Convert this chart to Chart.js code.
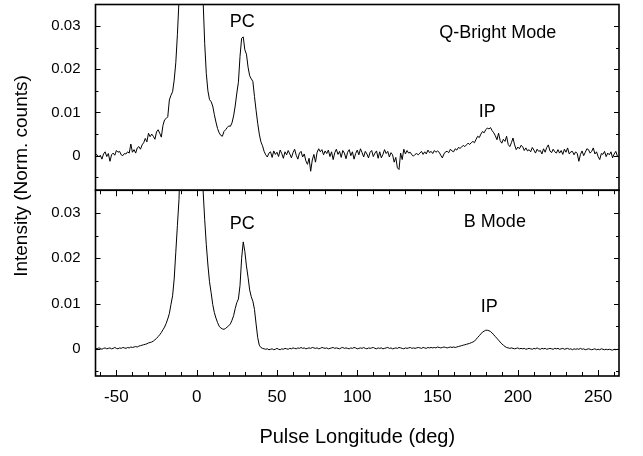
<!DOCTYPE html>
<html>
<head>
<meta charset="utf-8">
<script src="https://cdn.jsdelivr.net/npm/chart.js@4.4.0/dist/chart.umd.min.js"></script>
<style>
  html, body { margin: 0; padding: 0; background: #fff; }
  canvas { display: block; }
</style>
</head>
<body>
<canvas id="profile-chart" width="643" height="456"></canvas>
<script>
// pulse longitude in degrees, one sample per degree
const longitude = [
  -63, -62, -61, -60, -59, -58, -57, -56, -55, -54,
  -53, -52, -51, -50, -49, -48, -47, -46, -45, -44,
  -43, -42, -41, -40, -39, -38, -37, -36, -35, -34,
  -33, -32, -31, -30, -29, -28, -27, -26, -25, -24,
  -23, -22, -21, -20, -19, -18, -17, -16, -15, -14,
  -13, -12, -11, -10, -9, -8, -7, -6, -5, -4,
  -3, -2, -1, 0, 1, 2, 3, 4, 5, 6,
  7, 8, 9, 10, 11, 12, 13, 14, 15, 16,
  17, 18, 19, 20, 21, 22, 23, 24, 25, 26,
  27, 28, 29, 30, 31, 32, 33, 34, 35, 36,
  37, 38, 39, 40, 41, 42, 43, 44, 45, 46,
  47, 48, 49, 50, 51, 52, 53, 54, 55, 56,
  57, 58, 59, 60, 61, 62, 63, 64, 65, 66,
  67, 68, 69, 70, 71, 72, 73, 74, 75, 76,
  77, 78, 79, 80, 81, 82, 83, 84, 85, 86,
  87, 88, 89, 90, 91, 92, 93, 94, 95, 96,
  97, 98, 99, 100, 101, 102, 103, 104, 105, 106,
  107, 108, 109, 110, 111, 112, 113, 114, 115, 116,
  117, 118, 119, 120, 121, 122, 123, 124, 125, 126,
  127, 128, 129, 130, 131, 132, 133, 134, 135, 136,
  137, 138, 139, 140, 141, 142, 143, 144, 145, 146,
  147, 148, 149, 150, 151, 152, 153, 154, 155, 156,
  157, 158, 159, 160, 161, 162, 163, 164, 165, 166,
  167, 168, 169, 170, 171, 172, 173, 174, 175, 176,
  177, 178, 179, 180, 181, 182, 183, 184, 185, 186,
  187, 188, 189, 190, 191, 192, 193, 194, 195, 196,
  197, 198, 199, 200, 201, 202, 203, 204, 205, 206,
  207, 208, 209, 210, 211, 212, 213, 214, 215, 216,
  217, 218, 219, 220, 221, 222, 223, 224, 225, 226,
  227, 228, 229, 230, 231, 232, 233, 234, 235, 236,
  237, 238, 239, 240, 241, 242, 243, 244, 245, 246,
  247, 248, 249, 250, 251, 252, 253, 254, 255, 256,
  257, 258, 259, 260, 261, 262
];

// Q-Bright mode intensity, in units of 0.001 norm. counts
const qBrightMilli = [
  0.3, 0.2, -0.3, 0.1, -0.8, 0.4, 0.9, -0.2, 0.5, -1.3,
  0.2, 0.6, 0.1, 1.2, 0.8, 1.0, 0.2, 0.0, 0.5, 0.4,
  0.9, 0.6, 2.7, 0.8, 1.4, 0.6, 1.8, 2.1, 1.5, 2.5,
  3.0, 4.0, 3.2, 5.2, 4.4, 5.0, 4.5, 3.8, 5.5, 6.0,
  5.2, 4.3, 7.0, 8.3, 8.6, 9.0, 12.9, 14.0, 14.8, 17.5,
  21.5, 28.0, 36, 48, 62, 78, 92, 105, 115, 122,
  126, 126, 122, 115, 100, 80, 55, 36, 26, 19,
  15, 13, 12.5, 11.5, 9.5, 7.8, 6.3, 5.3, 4.7, 4.5,
  5.6, 6.0, 6.5, 6.9, 6.8, 7.6, 9.2, 11.5, 14.5, 17,
  23, 27.2, 27.5, 24.5, 23.5, 20.5, 18.5, 17.8, 17.2, 13.7,
  10.5, 7.5, 5.0, 3.2, 2.3, 1.0, 0.2, -0.3, 0.6, 0.9,
  -0.4, 1.1, 0.3, 0.8, -0.2, 1.3, 0.5, -0.6, 0.9, 0.2,
  1.2, 0.4, -0.5, 0.7, 1.5, 0.1, -0.8, 0.6, 1.0, -0.3,
  0.4, -1.2, -2.0, -0.6, -3.6, -1.0, 0.3, -1.5, 0.8, 1.6,
  0.9, 1.4, 0.2, 1.1, 0.5, 1.3, -0.2, 0.9, -0.9, 0.7,
  1.5, 0.3, 1.0, -0.4, 1.2, 0.6, -0.7, 0.8, 1.4, 0.0,
  0.9, -0.8, 0.5, 1.3, 0.2, 1.6, 0.7, -0.3, 1.0, 0.4,
  -0.5, 0.8, 1.2, -0.2, 0.6, 1.1, -0.6, 0.9, -0.5, 0.3,
  1.4, 0.5, 1.0, -0.3, 0.7, 0.2, -1.5, -0.4, -2.8, -3.2,
  0.6, -0.9, 1.5, 0.4, 1.2, 0.6, 0.8, 0.2, -0.1, 0.3,
  0.5, 0.2, 0.6, 1.0, 0.3, 0.9, 0.4, 1.3, 0.7, 1.0,
  0.5, 1.2, 0.8, 1.1, 0.8, 0.1, -0.5, 0.4, 0.9, 1.0,
  0.7, 1.5, 1.1, 0.9, 1.6, 1.3, 1.9, 1.7, 2.0, 2.4,
  2.1, 2.5, 2.9, 2.6, 3.0, 3.3, 3.0, 3.8, 4.5, 4.2,
  5.0, 5.6, 5.3, 6.0, 6.4, 6.2, 6.5, 5.8, 5.3, 4.6,
  3.7, 5.2, 3.5, 2.9, 3.8, 3.3, 4.5, 2.6, 2.1, 3.0,
  4.1, 2.5, 1.4, 2.0, 1.6, 2.4, 2.1, 1.2, 1.8, 1.1,
  1.4, 0.9, 1.9, 1.3, 0.6, 1.5, 1.0, 1.2, 0.4, 1.6,
  0.8, 1.9, 2.5, 1.1, 0.7, 1.5, 0.9, 0.6, 1.4, 0.6,
  1.2, 0.3, 1.5, 0.8, 1.8, 0.4, 0.9, 1.0, 0.2, 0.9,
  0.5, -1.3, 0.3, 1.1, 0.0, 0.8, 1.6, 1.4, 0.6, 1.0,
  1.8, 0.4, 0.9, -0.2, -0.9, 0.5, 0.3, 1.0, -0.2, 0.6,
  0.2, 0.9, -0.5, 0.4, 1.0, -0.1
];

// B mode intensity, in units of 0.001 norm. counts
const bModeMilli = [
  0.1, 0.0, 0.2, 0.1, -0.1, 0.1, 0.2, 0.0, 0.1, 0.2,
  0.0, 0.1, 0.3, 0.1, 0.0, 0.2, 0.1, 0.3, 0.2, 0.1,
  0.3, 0.2, 0.4, 0.3, 0.4, 0.5, 0.4, 0.6, 0.7, 0.8,
  0.9, 1.0, 1.1, 1.3, 1.4, 1.5, 1.7, 2.0, 2.3, 2.7,
  3.1, 3.6, 4.2, 4.8, 5.6, 6.6, 7.8, 9.8, 11.7, 15.4,
  21.3, 27.2, 33, 45, 60, 76, 92, 106, 118, 126,
  130, 130, 126, 118, 104, 84, 60, 35, 28.5, 23,
  18.5, 14.8, 12.4, 9.8, 8.0, 6.8, 5.8, 5.0, 4.6, 4.4,
  4.3, 4.5, 4.8, 5.1, 5.5, 6.3, 7.3, 8.9, 10.2, 11.0,
  14.0, 20.0, 23.6, 21.5, 18.3, 15.8, 13.0, 11.5, 10.5, 8.7,
  5.5, 2.5, 0.8, 0.3, 0.1, 0.0, -0.1, 0.0, -0.2, -0.1,
  0.0, -0.2, -0.1, 0.1, -0.1, -0.2, 0.0, -0.1, 0.1, 0.0,
  -0.1, 0.1, 0.0, 0.2, 0.1, 0.0, 0.2, 0.1, 0.3, 0.1,
  0.2, 0.0, 0.1, 0.2, 0.1, 0.3, 0.2, 0.1, 0.2, 0.0,
  0.1, 0.3, 0.2, 0.1, 0.2, 0.0, 0.1, 0.2, 0.3, 0.1,
  0.2, 0.1, 0.0, 0.2, 0.3, 0.1, 0.2, 0.1, 0.0, 0.2,
  0.1, 0.3, 0.2, 0.0, 0.1, 0.2, 0.1, 0.3, 0.1, 0.0,
  0.2, 0.1, 0.2, 0.3, 0.1, 0.0, 0.2, 0.1, 0.2, 0.0,
  0.1, 0.2, 0.3, 0.1, 0.2, 0.0, 0.1, 0.2, 0.1, 0.3,
  0.2, 0.1, 0.0, 0.2, 0.1, 0.2, 0.3, 0.1, 0.2, 0.1,
  0.2, 0.3, 0.2, 0.1, 0.3, 0.2, 0.1, 0.3, 0.2, 0.3,
  0.2, 0.3, 0.2, 0.4, 0.3, 0.2, 0.3, 0.4, 0.3, 0.2,
  0.3, 0.4, 0.3, 0.4, 0.3, 0.4, 0.5, 0.6, 0.7, 0.8,
  0.9, 1.0, 1.1, 1.2, 1.35, 1.5, 1.7, 2.1, 2.5, 2.9,
  3.3, 3.7, 3.9, 4.1, 4.1, 4.0, 3.8, 3.5, 3.1, 2.7,
  2.3, 1.9, 1.5, 1.1, 0.8, 0.5, 0.3, 0.2, 0.1, 0.2,
  0.1, 0.0, 0.1, 0.2, 0.0, 0.1, 0.0, 0.1, -0.1, 0.0,
  0.1, 0.0, -0.1, 0.1, 0.0, 0.2, 0.0, -0.1, 0.1, 0.0,
  0.1, -0.1, 0.0, 0.1, 0.0, -0.1, 0.1, 0.0, 0.1, -0.1,
  0.0, 0.1, -0.1, 0.0, 0.1, -0.1, 0.0, -0.2, 0.0, -0.1,
  0.0, -0.1, 0.1, -0.1, 0.0, -0.2, -0.1, 0.0, -0.1, -0.2,
  -0.1, 0.0, -0.2, -0.1, -0.2, 0.0, -0.1, -0.2, -0.1, -0.2,
  -0.1, -0.2, -0.3, -0.1, -0.2, -0.1
];

const xTicks = [-50, 0, 50, 100, 150, 200, 250];
const yTicks = [0, 0.01, 0.02, 0.03];
const yTickLabels = ['0', '0.01', '0.02', '0.03'];

// text labels inside the panels, placed in data coordinates
const noteText = ['PC', 'IP', 'Q-Bright Mode', 'PC', 'IP', 'B Mode'];
const noteLon = [28.4, 180.9, 187.5, 28.4, 182.2, 185.7];
const noteInt = [0.031, 0.010, 0.0283, 0.0276, 0.0092, 0.028];
const notePanel = ['yTop', 'yTop', 'yTop', 'yBot', 'yBot', 'yBot'];

const FONT = '"Liberation Sans", Arial, Helvetica, sans-serif';
Chart.defaults.font.family = FONT;
Chart.defaults.color = '#000';

// keep each profile inside its own panel
const panelClip = {
  id: 'panelClip',
  beforeDatasetDraw(chart, args) {
    const s = chart.scales[args.meta.yAxisID];
    const a = chart.chartArea;
    chart.ctx.save();
    chart.ctx.beginPath();
    chart.ctx.rect(a.left, s.top, a.right - a.left, s.bottom - s.top);
    chart.ctx.clip();
  },
  afterDatasetDraw(chart) {
    chart.ctx.restore();
  }
};

// frames, inward ticks, panel notes and the shared y title
const frame = {
  id: 'frame',
  afterDatasetsDraw(chart) {
    const { ctx, chartArea: a, scales } = chart;
    const x = scales.x;
    const yb = scales.yBot;
    ctx.save();
    ctx.strokeStyle = '#000';
    ctx.lineWidth = 1;
    ctx.beginPath();
    for (let v = -60; v <= 260; v += 10) {
      const px = Math.round(x.getPixelForValue(v)) + 0.5;
      const len = v % 50 === 0 ? 6 : 4;
      ctx.moveTo(px, yb.bottom);
      ctx.lineTo(px, yb.bottom - len);
      ctx.moveTo(px, yb.top);
      ctx.lineTo(px, yb.top + len);
    }
    ['yTop', 'yBot'].forEach(id => {
      const s = scales[id];
      for (let k = -2; k <= 7; k++) {
        const v = k * 0.005;
        if (v <= s.min || v >= s.max - 1e-9) continue;
        const py = Math.round(s.getPixelForValue(v)) + 0.5;
        const len = k % 2 === 0 ? 5 : 3;
        ctx.moveTo(a.left, py);
        ctx.lineTo(a.left + len, py);
        ctx.moveTo(a.right, py);
        ctx.lineTo(a.right - len, py);
      }
    });
    ctx.stroke();

    ctx.lineWidth = 1.6;
    ['yTop', 'yBot'].forEach(id => {
      const s = scales[id];
      ctx.strokeRect(a.left, s.top, a.right - a.left, s.bottom - s.top);
    });

    ctx.fillStyle = '#000';
    ctx.font = '18px ' + FONT;
    ctx.textAlign = 'center';
    ctx.textBaseline = 'middle';
    noteText.forEach((t, i) => {
      ctx.fillText(t, x.getPixelForValue(noteLon[i]), scales[notePanel[i]].getPixelForValue(noteInt[i]));
    });

    ctx.font = '19px ' + FONT;
    ctx.translate(22, 176);
    ctx.rotate(-Math.PI / 2);
    ctx.fillText('Intensity (Norm. counts)', 0, 0);
    ctx.restore();
  }
};

function yAxis(min, max, weight) {
  return {
    type: 'linear',
    position: 'left',
    stack: 'panels',
    stackWeight: 1,
    weight: weight,
    min: min,
    max: max,
    grid: { display: false, drawTicks: false },
    border: { display: false },
    ticks: {
      font: { size: 15 },
      padding: 15,
      callback: v => yTickLabels[yTicks.indexOf(v)]
    },
    afterBuildTicks: s => { s.ticks = yTicks.map(v => ({ value: v })); },
    afterFit: s => { s.width = 95.5; s.paddingTop = 0; s.paddingBottom = 0; }
  };
}

const canvas = document.getElementById('profile-chart');
new Chart(canvas, {
  type: 'line',
  data: {
    datasets: [
      {
        label: 'Q-Bright Mode',
        data: longitude.map((lon, i) => ({ x: lon, y: qBrightMilli[i] / 1000 })),
        yAxisID: 'yTop',
        borderColor: '#000',
        borderWidth: 1,
        pointRadius: 0,
        fill: false,
        tension: 0
      },
      {
        label: 'B Mode',
        data: longitude.map((lon, i) => ({ x: lon, y: bModeMilli[i] / 1000 })),
        yAxisID: 'yBot',
        borderColor: '#000',
        borderWidth: 1,
        pointRadius: 0,
        fill: false,
        tension: 0
      }
    ]
  },
  options: {
    responsive: false,
    animation: false,
    layout: { padding: { left: 0, top: 4.5, right: 24, bottom: 0 } },
    plugins: { legend: { display: false }, tooltip: { enabled: false } },
    scales: {
      x: {
        type: 'linear',
        min: -63,
        max: 263,
        grid: { display: false, drawTicks: false },
        border: { display: false },
        ticks: { font: { size: 17 }, padding: 11 },
        afterBuildTicks: s => { s.ticks = xTicks.map(v => ({ value: v })); },
        afterFit: s => { s.height = 80; s.paddingLeft = 0; s.paddingRight = 0; },
        title: {
          display: true,
          text: 'Pulse Longitude (deg)',
          font: { size: 20 },
          padding: { top: 0, bottom: 7 }
        }
      },
      yBot: yAxis(-0.006, 0.035, 0),
      yTop: yAxis(-0.008, 0.035, 1)
    }
  },
  plugins: [panelClip, frame]
});
</script>
</body>
</html>
